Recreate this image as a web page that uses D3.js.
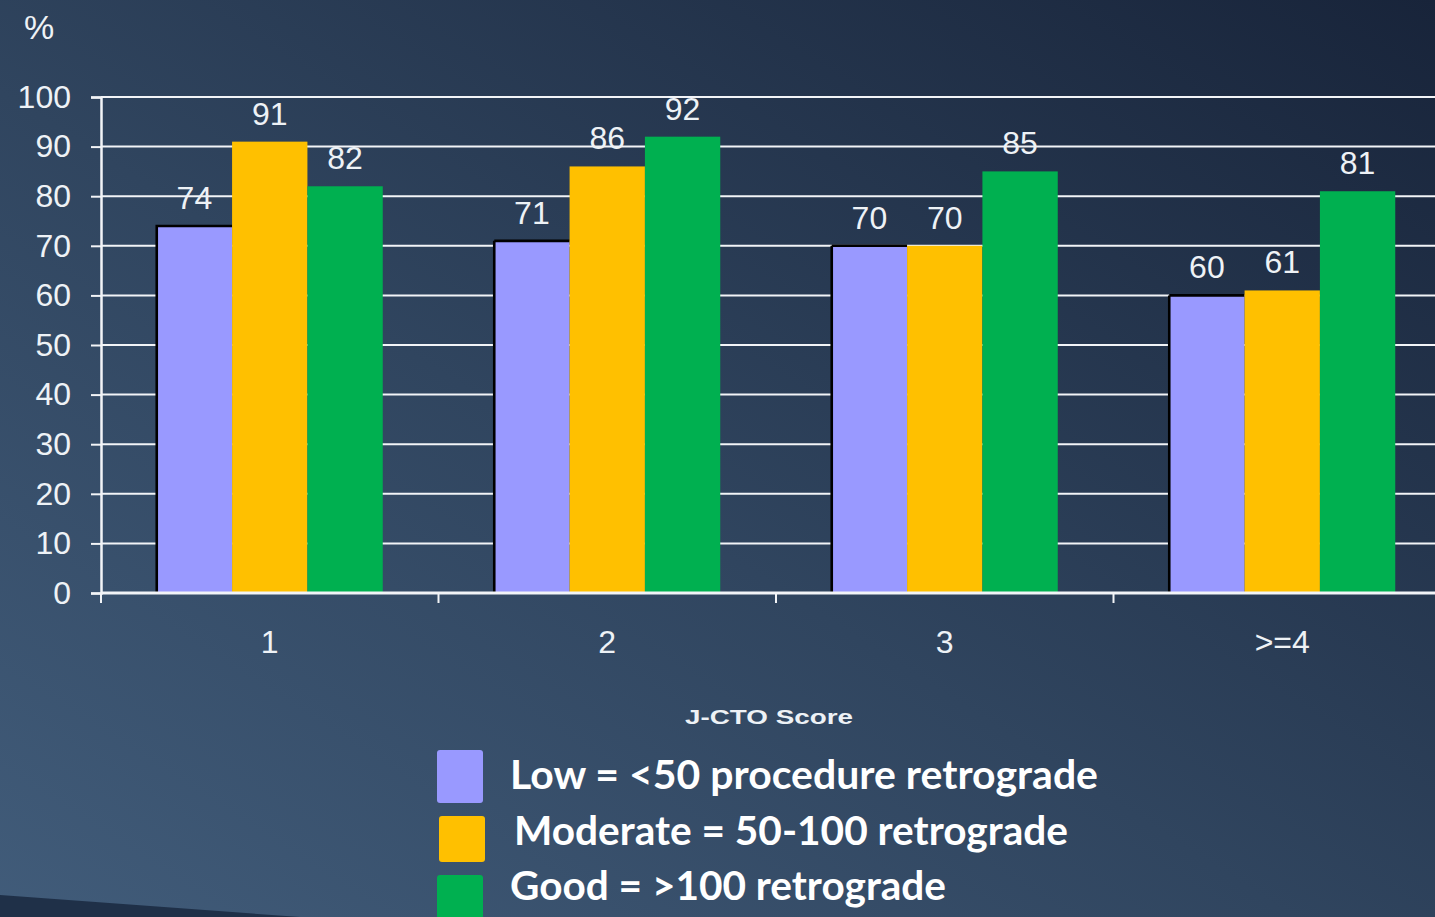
<!DOCTYPE html>
<html>
<head>
<meta charset="utf-8">
<script src="https://cdn.jsdelivr.net/npm/d3@7"></script>
<style>
  html, body { margin: 0; padding: 0; overflow: hidden; background: #2c4059; }
  svg { display: block; }
</style>
</head>
<body>
<svg id="chart" width="1435" height="917"></svg>
<script>
// J-CTO score categories and success rates (%) by operator retrograde experience
const categories = ["1", "2", "3", ">=4"];
const seriesNames = ["Low", "Moderate", "Good"];
const lowValues = [74, 71, 70, 60];
const moderateValues = [91, 86, 70, 61];
const goodValues = [82, 92, 85, 81];
const yTicks = [0, 10, 20, 30, 40, 50, 60, 70, 80, 90, 100];
const legendLabels = [
  "Low = <50 procedure retrograde",
  "Moderate = 50-100 retrograde",
  "Good = >100 retrograde"
];
const seriesColors = ["#9999ff", "#ffc000", "#00b050"];

const W = 1435, H = 917;
const svg = d3.select("#chart");

// Background
const defs = svg.append("defs");
const bg = defs.append("linearGradient").attr("id", "bg")
  .attr("x1", "0").attr("y1", "1").attr("x2", "1").attr("y2", "0");
bg.append("stop").attr("offset", "0").attr("stop-color", "#415c7a");
bg.append("stop").attr("offset", "0.45").attr("stop-color", "#30455f");
bg.append("stop").attr("offset", "1").attr("stop-color", "#18243a");
svg.append("rect").attr("width", W).attr("height", H).attr("fill", "url(#bg)");
svg.append("path").attr("d", "M0,895 L300,917 L0,917 Z").attr("fill", "#1f3048");

const plotLeft = 101, plotTop = 97, plotBottom = 593;
const step = 337.5;

const x0 = d3.scaleBand().domain(categories)
  .range([plotLeft, plotLeft + step * categories.length]).padding(0);
const groupWidth = 226;
const x1 = d3.scaleBand().domain(seriesNames)
  .range([(x0.bandwidth() - groupWidth) / 2, (x0.bandwidth() + groupWidth) / 2]).padding(0);
const y = d3.scaleLinear().domain([0, 100]).range([plotBottom, plotTop]);

const textColor = "#eef2f6";
const font = "'Liberation Sans', Arial, sans-serif";
const numSize = "32px";

// Gridlines
svg.append("g").selectAll("line").data(yTicks.filter(d => d > 0)).join("line")
  .attr("x1", plotLeft).attr("x2", W)
  .attr("y1", d => y(d)).attr("y2", d => y(d))
  .attr("stroke", "#f2f4f7").attr("stroke-width", 2);

// Y axis
const yAxis = svg.append("g").attr("transform", `translate(${plotLeft},0)`)
  .call(d3.axisLeft(y).tickValues(yTicks).tickSize(10).tickPadding(20));
yAxis.select(".domain").attr("stroke", "#f2f4f7").attr("stroke-width", 2.5);
yAxis.selectAll(".tick line").attr("stroke", "#f2f4f7").attr("stroke-width", 2);
yAxis.selectAll(".tick text").attr("fill", textColor)
  .style("font-family", font).style("font-size", numSize);

// Bars
const rows = categories.map((c, i) => ({
  cat: c,
  vals: [lowValues[i], moderateValues[i], goodValues[i]]
}));
const groups = svg.append("g").selectAll("g").data(rows).join("g")
  .attr("transform", d => `translate(${x0(d.cat)},0)`);

const bw = x1.bandwidth();
groups.selectAll("rect").data(d => d.vals.map((v, k) => ({ v, k }))).join("rect")
  .attr("x", d => x1(seriesNames[d.k]))
  .attr("y", d => y(d.v))
  .attr("width", bw)
  .attr("height", d => y(0) - y(d.v))
  .attr("fill", d => seriesColors[d.k])
  .attr("stroke", d => d.k === 0 ? "#000" : "none")
  .attr("stroke-width", 2.6)
  // outline only the top and left edges of the first series
  .attr("stroke-dasharray", d => {
    const h = y(0) - y(d.v);
    return `${bw} ${h + bw} ${h}`;
  });

groups.selectAll("text.val").data(d => d.vals.map((v, k) => ({ v, k }))).join("text")
  .attr("class", "val")
  .attr("x", d => x1(seriesNames[d.k]) + bw / 2)
  .attr("y", d => y(d.v) - 17)
  .attr("text-anchor", "middle")
  .attr("fill", textColor)
  .style("font-family", font).style("font-size", numSize)
  .text(d => d.v);

// X axis
const xAxis = svg.append("g").attr("transform", `translate(0,${plotBottom})`);
xAxis.append("line").attr("x1", plotLeft).attr("x2", W).attr("y1", 0).attr("y2", 0)
  .attr("stroke", "#f2f4f7").attr("stroke-width", 3);
xAxis.selectAll("line.tick").data(categories).join("line").attr("class", "tick")
  .attr("x1", d => x0(d)).attr("x2", d => x0(d))
  .attr("y1", 0).attr("y2", 10)
  .attr("stroke", "#f2f4f7").attr("stroke-width", 2);
xAxis.selectAll("text").data(categories).join("text")
  .attr("x", d => x0(d) + x0.bandwidth() / 2)
  .attr("y", 60)
  .attr("text-anchor", "middle")
  .attr("fill", textColor)
  .style("font-family", font).style("font-size", numSize)
  .text(d => d);

// Axis titles
svg.append("text").attr("x", 24).attr("y", 39)
  .attr("fill", textColor).style("font-family", font).style("font-size", "34px")
  .text("%");
svg.append("text").attr("x", 685).attr("y", 724)
  .attr("textLength", 168).attr("lengthAdjust", "spacingAndGlyphs")
  .attr("fill", textColor).style("font-family", font).style("font-size", "20.5px")
  .style("font-weight", "bold").text("J-CTO Score");

// Legend
const legendY = [750, 816, 875];
const legendH = [53, 46, 60];
const legendX = [437, 439, 437];
const textX = [510, 514, 510];
const textBase = [789, 845, 900];
const textLen = [588, 554, 436];
const legend = svg.append("g");
legend.selectAll("rect").data(seriesColors).join("rect")
  .attr("x", (d, i) => legendX[i]).attr("y", (d, i) => legendY[i])
  .attr("width", 46).attr("height", (d, i) => legendH[i]).attr("rx", 3)
  .attr("fill", d => d);
legend.selectAll("text").data(legendLabels).join("text")
  .attr("x", (d, i) => textX[i]).attr("y", (d, i) => textBase[i])
  .attr("textLength", (d, i) => textLen[i]).attr("lengthAdjust", "spacingAndGlyphs")
  .attr("fill", "#ffffff")
  .style("font-family", "Lato, 'Open Sans', sans-serif")
  .style("font-size", "40px").style("font-weight", "bold")
  .text(d => d);
</script>
</body>
</html>
